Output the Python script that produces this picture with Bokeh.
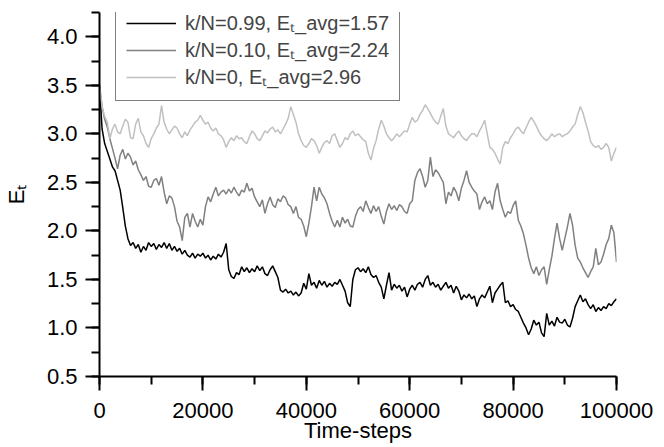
from bokeh.plotting import figure
from bokeh.models import SingleIntervalTicker, NumeralTickFormatter, Legend, LegendItem
from bokeh.embed import file_html
from bokeh.resources import INLINE

# Time-steps sampled every 500 steps
time_steps = list(range(0, 100001, 500))

# k/N = 0.99, Et_avg = 1.57
et_k099 = [
    3.50, 3.05, 2.90, 2.82, 2.74, 2.66, 2.62, 2.52, 2.42, 2.24,
    2.05, 1.92, 1.85, 1.88, 1.82, 1.86, 1.78, 1.84, 1.80, 1.88,
    1.84, 1.87, 1.81, 1.86, 1.83, 1.88, 1.82, 1.87, 1.80, 1.84,
    1.79, 1.82, 1.76, 1.80, 1.75, 1.73, 1.77, 1.72, 1.76, 1.74,
    1.77, 1.72, 1.75, 1.70, 1.74, 1.71, 1.76, 1.73, 1.78, 1.87,
    1.60, 1.53, 1.51, 1.57, 1.55, 1.63, 1.58, 1.62, 1.57, 1.61,
    1.58, 1.64, 1.59, 1.63, 1.56, 1.54, 1.60, 1.64, 1.58, 1.52,
    1.39, 1.37, 1.40, 1.36, 1.38, 1.34, 1.37, 1.33, 1.36, 1.46,
    1.40, 1.56, 1.44, 1.47, 1.41, 1.49, 1.44, 1.48, 1.42, 1.46,
    1.43, 1.47, 1.45, 1.50, 1.44, 1.38, 1.26, 1.22, 1.50, 1.60,
    1.62, 1.58, 1.61, 1.57, 1.63, 1.55, 1.52, 1.54, 1.47, 1.42,
    1.30, 1.44, 1.57, 1.39, 1.45, 1.41, 1.44, 1.38, 1.42, 1.32,
    1.40, 1.44, 1.39, 1.45, 1.47, 1.42, 1.50, 1.54, 1.44, 1.47,
    1.42, 1.45, 1.39, 1.43, 1.47, 1.41, 1.44, 1.36, 1.43, 1.38,
    1.29, 1.34, 1.31, 1.35, 1.30, 1.33, 1.22, 1.30, 1.34, 1.31,
    1.37, 1.43, 1.26, 1.36, 1.40, 1.44, 1.47, 1.26, 1.28, 1.22,
    1.24, 1.19, 1.17, 1.11, 1.05, 1.00, 0.93, 0.99, 1.08, 1.03,
    1.06, 0.95, 0.91, 1.15, 1.03, 1.07, 1.02, 1.11, 1.06, 1.05,
    1.09, 1.03, 1.01, 1.10, 1.22, 1.28, 1.34, 1.27, 1.30, 1.24,
    1.20, 1.24, 1.17, 1.21, 1.18, 1.22, 1.20, 1.25, 1.23, 1.27,
    1.30,
]

# k/N = 0.10, Et_avg = 2.24
et_k010 = [
    3.50, 3.28, 3.15, 3.07, 2.95, 2.85, 2.75, 2.64, 2.78, 2.84,
    2.74, 2.80, 2.76, 2.68, 2.72, 2.63, 2.58, 2.52, 2.56, 2.46,
    2.45, 2.52, 2.54, 2.47, 2.56, 2.40, 2.28, 2.36, 2.34, 2.25,
    2.10, 2.04, 1.90, 2.14, 2.18, 2.04, 2.18, 2.10, 2.04, 2.12,
    2.06, 2.25, 2.35, 2.30, 2.38, 2.45, 2.36, 2.40, 2.42, 2.38,
    2.43, 2.39, 2.45, 2.40, 2.36, 2.42, 2.40, 2.49, 2.41, 2.44,
    2.35, 2.30, 2.25, 2.32, 2.18, 2.28, 2.35, 2.27, 2.24, 2.33,
    2.30, 2.36, 2.34, 2.27, 2.25, 2.18, 2.25, 2.14, 2.12, 2.05,
    1.94, 2.08, 2.25, 2.45, 2.31, 2.45, 2.38, 2.34, 2.28, 2.18,
    2.10, 2.04, 2.11, 2.04, 2.14, 2.08, 2.12, 2.05, 2.04, 2.15,
    2.22, 2.25, 2.20, 2.31, 2.24, 2.18, 2.26, 2.20, 2.25, 2.15,
    2.07, 2.20, 2.28, 2.22, 2.26, 2.21, 2.27, 2.25, 2.20, 2.18,
    2.28, 2.31, 2.52, 2.60, 2.64, 2.56, 2.45, 2.52, 2.76, 2.56,
    2.63, 2.60, 2.55, 2.50, 2.28, 2.40, 2.36, 2.45, 2.40, 2.31,
    2.44, 2.52, 2.62, 2.50, 2.45, 2.41, 2.38, 2.22, 2.30, 2.35,
    2.28, 2.31, 2.22, 2.40, 2.49, 2.31, 2.22, 2.14, 2.20, 2.18,
    2.26, 2.31, 2.11, 2.05, 1.97, 1.85, 1.72, 1.62, 1.56, 1.63,
    1.54, 1.60, 1.63, 1.45, 1.60, 1.74, 1.92, 2.08, 1.92, 1.80,
    1.92, 2.04, 2.18, 2.06, 1.85, 1.72, 1.68, 1.62, 1.57, 1.52,
    1.58, 1.63, 1.82, 1.65, 1.68, 1.76, 1.86, 1.92, 2.06, 1.98,
    1.68,
]

# k/N = 0, Et_avg = 2.96
et_k0 = [
    3.50, 3.28, 3.18, 3.12, 2.95, 3.05, 3.10, 3.02, 3.00, 3.08,
    3.15, 3.12, 2.96, 2.95, 3.10, 3.16, 3.02, 2.98, 2.90, 2.86,
    2.95, 3.00, 3.06, 3.10, 3.29, 3.12, 3.05, 3.00, 3.04, 3.08,
    3.06, 3.00, 2.96, 3.02, 2.98, 3.04, 3.08, 3.12, 3.14, 3.19,
    3.14, 3.10, 3.12, 3.06, 3.03, 3.06, 3.00, 2.98, 2.94, 2.86,
    2.92, 2.96, 2.93, 2.98, 2.95, 2.96, 2.92, 2.90, 2.97, 3.03,
    3.00, 2.95, 2.93, 2.98, 3.03, 3.01, 3.05, 3.07, 3.02, 3.04,
    3.00, 3.05, 3.10, 3.16, 3.28, 3.20, 3.12, 3.00, 2.93, 2.88,
    2.86, 2.90, 2.95, 2.93, 2.88, 2.80, 2.86, 2.91, 2.93, 2.90,
    2.98, 3.00, 2.93, 2.86, 2.90, 2.96, 2.94, 3.00, 3.03, 2.98,
    3.00, 2.97, 2.94, 2.92, 2.80, 2.73, 2.85, 2.93, 3.05, 3.14,
    3.08, 3.00, 2.96, 2.93, 2.96, 3.00, 2.97, 3.00, 3.03, 3.02,
    3.10, 3.17, 3.12, 3.14, 3.20, 3.24, 3.30, 3.26, 3.21, 3.16,
    3.12, 3.10, 3.18, 3.26, 3.08, 3.00, 2.98, 2.96, 3.00, 3.03,
    2.98, 2.95, 2.93, 2.97, 3.00, 3.00, 2.97, 3.03, 3.08, 3.14,
    3.00, 2.86, 2.84, 2.80, 2.74, 2.69, 2.86, 2.92, 2.90, 2.96,
    3.00, 3.05, 3.07, 3.03, 3.00, 3.06, 3.12, 3.17, 3.13, 3.08,
    3.02, 2.98, 2.95, 2.93, 2.96, 3.00, 2.97, 2.99, 3.00, 2.97,
    2.99, 3.00, 3.03, 3.07, 3.10, 3.20, 3.28, 3.22, 3.12, 3.03,
    2.92, 2.88, 2.86, 2.88, 2.84, 2.86, 2.90, 2.86, 2.72, 2.80,
    2.86,
]

legend_labels = [
    "k/N=0.99, E\u209c_avg=1.57",
    "k/N=0.10, E\u209c_avg=2.24",
    "k/N=0, E\u209c_avg=2.96",
]
series = [et_k099, et_k010, et_k0]
colors = ["#000000", "#808080", "#c0c0c0"]

FONT = "Liberation Sans"

p = figure(
    width=664, height=447,
    x_range=(0, 100000), y_range=(0.5, 4.25),
    output_backend="svg", toolbar_location=None,
    min_border_left=99, min_border_right=48,
    min_border_top=12, min_border_bottom=71,
)
p.outline_line_color = None
p.xgrid.visible = False
p.ygrid.visible = False
p.background_fill_color = "white"
p.border_fill_color = "white"

renderers = []
for ys, c in zip(series, colors):
    r = p.line(time_steps, ys, line_color=c, line_width=1.5)
    renderers.append(r)

for ax in (p.xaxis[0], p.yaxis[0]):
    ax.axis_line_width = 2
    ax.major_tick_line_width = 2
    ax.minor_tick_line_width = 2
    ax.major_tick_out = 14
    ax.major_tick_in = 0
    ax.minor_tick_out = 8
    ax.minor_tick_in = 0
    ax.major_label_text_font = FONT
    ax.major_label_text_font_size = "22px"
    ax.major_label_text_color = "black"
    ax.axis_label_text_font = FONT
    ax.axis_label_text_font_size = "22px"
    ax.axis_label_text_font_style = "normal"
    ax.axis_label_text_color = "black"

p.xaxis.ticker = SingleIntervalTicker(interval=20000, num_minor_ticks=2)
p.yaxis.ticker = SingleIntervalTicker(interval=0.5, num_minor_ticks=2)
p.xaxis.formatter = NumeralTickFormatter(format="0")
p.yaxis.formatter = NumeralTickFormatter(format="0.0")
p.xaxis.axis_label = "Time-steps"
p.yaxis.axis_label = "E\u209c"
p.xaxis.axis_label_text_line_height = 0.8
p.xaxis.major_label_standoff = 12
p.xaxis.axis_label_standoff = -3
p.yaxis.major_label_standoff = 8
p.yaxis.axis_label_standoff = 15

items = [LegendItem(label=lab, renderers=[r]) for lab, r in zip(legend_labels, renderers)]
legend = Legend(
    items=items, location=(16, 275),
    label_text_font=FONT, label_text_font_size="20px",
    glyph_width=50, label_standoff=9,
    padding=10, spacing=0,
    border_line_color="black", border_line_width=1,
    background_fill_alpha=1.0,
)
p.add_layout(legend, "center")

open("out.html", "w").write(file_html(p, INLINE))
